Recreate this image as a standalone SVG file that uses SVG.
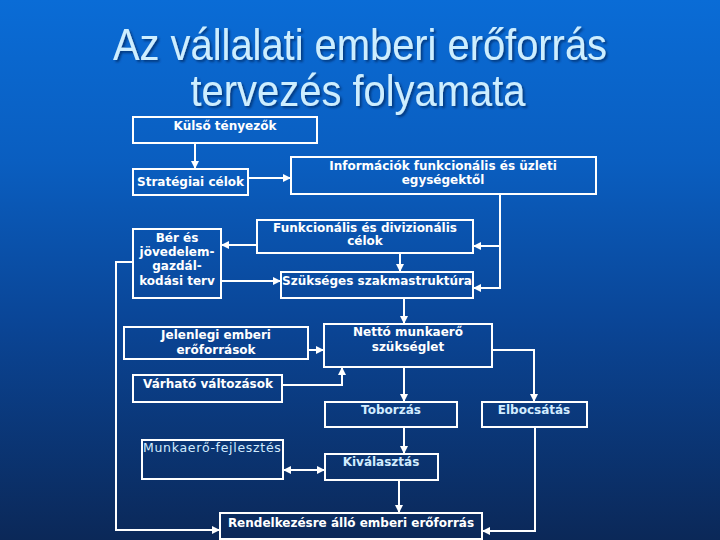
<svg xmlns="http://www.w3.org/2000/svg" width="720" height="540" viewBox="0 0 720 540">
<defs>
<linearGradient id="bg" x1="0" y1="0" x2="0" y2="1">
<stop offset="0" stop-color="#0a6cd6"/>
<stop offset="0.3" stop-color="#0a5ec0"/>
<stop offset="0.6" stop-color="#0a4596"/>
<stop offset="1" stop-color="#0b2858"/>
</linearGradient>
<marker id="ah" viewBox="0 0 8 8" refX="8" refY="4" markerWidth="8" markerHeight="8" markerUnits="userSpaceOnUse" orient="auto-start-reverse">
<path d="M0,0 L8,4 L0,8 Z" fill="#ffffff"/>
</marker>
<filter id="sh" x="-5%" y="-20%" width="110%" height="140%">
<feDropShadow dx="2" dy="2" stdDeviation="1" flood-color="#003070" flood-opacity="0.8"/>
</filter>
</defs>
<style>
.box{fill:none;stroke:#ffffff;stroke-width:2}
.t{font-family:"DejaVu Sans",Verdana,sans-serif;font-size:12px;font-weight:bold;fill:#ffffff;text-anchor:middle}
.lb{fill:#d2ecff}
.reg{font-weight:normal;font-size:12.5px;letter-spacing:0.7px}
.c{fill:none;stroke:#ffffff;stroke-width:2}
.ttl{font-family:"Liberation Sans",Arial,sans-serif;font-size:44px;fill:#cdeeff;text-anchor:middle}
</style>
<rect x="0" y="0" width="720" height="540" fill="url(#bg)"/>
<g id="title" filter="url(#sh)">
<text class="ttl" x="360" y="60" textLength="494" lengthAdjust="spacingAndGlyphs">Az vállalati emberi erőforrás</text>
<text class="ttl" x="358" y="106" textLength="335" lengthAdjust="spacingAndGlyphs">tervezés folyamata</text>
</g>
<g id="connectors">
<path class="c" d="M195,143 V169" marker-end="url(#ah)"/>
<path class="c" d="M248,178 H291" marker-end="url(#ah)"/>
<path class="c" d="M257,245 H221" marker-end="url(#ah)"/>
<path class="c" d="M221,281 H281" marker-end="url(#ah)"/>
<path class="c" d="M400,253 V272" marker-end="url(#ah)"/>
<path class="c" d="M500,194 V288 H473" marker-end="url(#ah)"/>
<path class="c" d="M500,246 H473" marker-end="url(#ah)"/>
<path class="c" d="M404,298 V324" marker-end="url(#ah)"/>
<path class="c" d="M308,350 H324" marker-end="url(#ah)"/>
<path class="c" d="M282,385 H342 V367" marker-end="url(#ah)"/>
<path class="c" d="M404,367 V402" marker-end="url(#ah)"/>
<path class="c" d="M492,350 H534 V402" marker-end="url(#ah)"/>
<path class="c" d="M404,427 V454" marker-end="url(#ah)"/>
<path class="c" d="M283,470 H325" marker-start="url(#ah)" marker-end="url(#ah)"/>
<path class="c" d="M399,480 V513" marker-end="url(#ah)"/>
<path class="c" d="M535,427 V531 H482" marker-end="url(#ah)"/>
<path class="c" d="M133,262 H116 V530 H220" marker-end="url(#ah)"/>
</g>
<g id="kulso">
<rect class="box" x="133" y="117" width="184" height="26"/>
<text class="t" x="225" y="130">Külső tényezők</text>
</g>
<g id="strategiai">
<rect class="box" x="133" y="169" width="115" height="26"/>
<text class="t" x="190.5" y="186">Stratégiai célok</text>
</g>
<g id="informaciok">
<rect class="box" x="291" y="157" width="305" height="37"/>
<text class="t" x="443" y="170">Információk funkcionális és üzleti</text>
<text class="t" x="443" y="184">egységektől</text>
</g>
<g id="ber">
<rect class="box" x="133" y="229" width="88" height="69"/>
<text class="t" x="177" y="242">Bér és</text>
<text class="t" x="177" y="256">jövedelem-</text>
<text class="t" x="177" y="270">gazdál-</text>
<text class="t" x="177" y="285">kodási terv</text>
</g>
<g id="funkcionalis">
<rect class="box" x="257" y="220" width="216" height="33"/>
<text class="t" x="365" y="232">Funkcionális és divizionális</text>
<text class="t" x="365" y="245">célok</text>
</g>
<g id="szukseges">
<rect class="box" x="281" y="272" width="192" height="26"/>
<text class="t" x="377" y="285">Szükséges szakmastruktúra</text>
</g>
<g id="jelenlegi">
<rect class="box" x="124" y="327" width="184" height="32"/>
<text class="t" x="216" y="339">Jelenlegi emberi</text>
<text class="t" x="216" y="354">erőforrások</text>
</g>
<g id="netto">
<rect class="box" x="324" y="324" width="168" height="43"/>
<text class="t" x="408" y="336">Nettó munkaerő</text>
<text class="t" x="408" y="351">szükséglet</text>
</g>
<g id="varhato">
<rect class="box" x="133" y="375" width="149" height="27"/>
<text class="t" x="208" y="388">Várható változások</text>
</g>
<g id="toborzas">
<rect class="box" x="325" y="402" width="132" height="25"/>
<text class="t lb" x="391" y="414">Toborzás</text>
</g>
<g id="elbocsatas">
<rect class="box" x="482" y="402" width="105" height="25"/>
<text class="t lb" x="534" y="414">Elbocsátás</text>
</g>
<g id="kivalasztas">
<rect class="box" x="325" y="454" width="113" height="26"/>
<text class="t lb" x="381" y="466">Kiválasztás</text>
</g>
<g id="munkaero">
<rect class="box" x="142" y="440" width="141" height="39"/>
<text class="t lb reg" x="143" y="452" style="text-anchor:start">Munkaerő-fejlesztés</text>
</g>
<g id="rendelkezesre">
<rect class="box" x="220" y="513" width="262" height="26"/>
<text class="t" x="351" y="527">Rendelkezésre álló emberi erőforrás</text>
</g>
</svg>
